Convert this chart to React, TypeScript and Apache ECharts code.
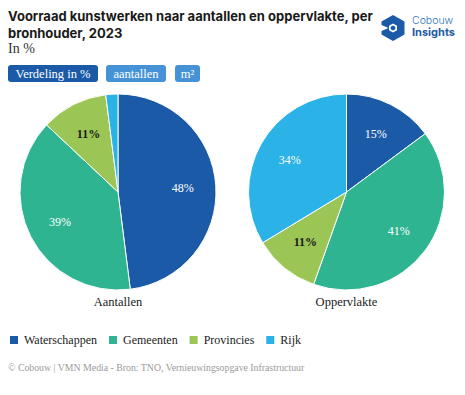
import React, { useEffect, useRef } from "react";
import * as echarts from "echarts";

const categories = ["Waterschappen", "Gemeenten", "Provincies", "Rijk"];
const aantallen = [48, 39, 11, 2];
const oppervlakte = [15, 41, 11, 34];
const pieTitles = ["Aantallen", "Oppervlakte"];
const colors = ["#1b5aa7", "#2fb492", "#9bc554", "#2bb2e6"];
const labelColors = ["#ffffff", "#ffffff", "#1a1a1a", "#ffffff"];
const labelWeights = ["normal", "normal", "bold", "normal"];
const hiddenBelow = 5;

const SERIF = "'Liberation Serif', serif";
const SANS = "Inter, 'Noto Sans', sans-serif";

export default function App() {
  const ref = useRef<HTMLDivElement>(null);
  useEffect(() => {
    document.body.style.margin = "0";
    const chart = echarts.init(ref.current!, null, { renderer: "svg" });
    const centers: [number, number][] = [
      [118, 192],
      [346.5, 192],
    ];
    const R = 98;
    const datasets = [aantallen, oppervlakte];
    const series: any[] = [];
    datasets.forEach((vals, i) => {
      series.push({
        type: "pie",
        center: centers[i],
        radius: [0, R],
        startAngle: 90,
        clockwise: true,
        silent: true,
        label: { show: false },
        labelLine: { show: false },
        itemStyle: { borderColor: "#ffffff", borderWidth: 1 },
        data: categories.map((c, k) => ({
          name: c,
          value: vals[k],
          itemStyle: { color: colors[k] },
        })),
      });
      series.push({
        type: "pie",
        center: centers[i],
        radius: [26, R],
        startAngle: 90,
        clockwise: true,
        silent: true,
        z: 3,
        labelLine: { show: false },
        itemStyle: { color: "rgba(0,0,0,0)" },
        label: { show: true, position: "inside" },
        data: categories.map((c, k) => ({
          name: c,
          value: vals[k],
          label: {
            show: vals[k] >= hiddenBelow,
            formatter: vals[k] + "%",
            color: labelColors[k],
            fontWeight: labelWeights[k],
            fontFamily: SERIF,
            fontSize: 12,
          },
        })),
      });
    });

    const logoBlue = "#1b5aa7";
    chart.setOption({
      animation: false,
      color: colors,
      legend: {
        left: 3,
        top: 329,
        icon: "rect",
        itemWidth: 10,
        itemHeight: 10,
        itemGap: 10,
        data: categories,
        selectedMode: false,
        textStyle: { fontFamily: SERIF, fontSize: 12, color: "#222" },
      },
      series,
      graphic: [
        {
          type: "text",
          left: 8,
          top: 7,
          style: {
            text: "Voorraad kunstwerken naar aantallen en oppervlakte, per\nbronhouder, 2023",
            font: `bold 13px ${SANS}`,
            fill: "#1a1a1a",
            lineHeight: 17,
          },
        },
        {
          type: "text",
          left: 8,
          top: 41,
          style: { text: "In %", font: `14px ${SERIF}`, fill: "#333" },
        },
        { type: "rect", shape: { x: 8, y: 65, width: 90, height: 17, r: 3 }, style: { fill: "#1b5aa7" } },
        { type: "text", x: 53, y: 73.5, style: { text: "Verdeling in %", font: `12.5px ${SERIF}`, fill: "#fff", align: "center", verticalAlign: "middle" } },
        { type: "rect", shape: { x: 106, y: 65, width: 60, height: 17, r: 3 }, style: { fill: "#4593d6" } },
        { type: "text", x: 136, y: 73.5, style: { text: "aantallen", font: `12.5px ${SERIF}`, fill: "#fff", align: "center", verticalAlign: "middle" } },
        { type: "rect", shape: { x: 175, y: 65, width: 25, height: 17, r: 3 }, style: { fill: "#4593d6" } },
        { type: "text", x: 187.5, y: 73.5, style: { text: "m²", font: `12.5px ${SERIF}`, fill: "#fff", align: "center", verticalAlign: "middle" } },
        { type: "text", x: centers[0][0], y: 302, style: { text: pieTitles[0], font: `12.5px ${SERIF}`, fill: "#1a1a1a", align: "center", verticalAlign: "middle" } },
        { type: "text", x: centers[1][0], y: 302, style: { text: pieTitles[1], font: `12.5px ${SERIF}`, fill: "#1a1a1a", align: "center", verticalAlign: "middle" } },
        {
          type: "text",
          left: 8,
          top: 362,
          style: {
            text: "© Cobouw | VMN Media - Bron: TNO, Vernieuwingsopgave Infrastructuur",
            font: `9.8px ${SERIF}`,
            fill: "#9a9a9a",
          },
        },
        {
          type: "group",
          x: 381,
          y: 15,
          children: [
            {
              type: "polygon",
              shape: { points: [[12, 0], [23.5, 6.5], [23.5, 19.5], [12, 26], [0.5, 19.5], [0.5, 16], [7.5, 13], [0.5, 10], [0.5, 6.5]] },
              style: { fill: logoBlue },
            },
            {
              type: "polygon",
              shape: { points: [[12, 8.5], [16, 10.8], [16, 15.2], [12, 17.5], [8, 15.2], [8, 10.8]] },
              style: { fill: "#ffffff" },
            },
            {
              type: "polygon",
              shape: { points: [[12, 10.5], [14.3, 11.8], [14.3, 14.2], [12, 15.5], [9.7, 14.2], [9.7, 11.8]] },
              style: { fill: logoBlue },
            },
          ],
        },
        { type: "text", x: 412, y: 20, style: { text: "Cobouw", font: `300 10.5px ${SANS}`, fill: "#2f74c0", verticalAlign: "middle" } },
        { type: "text", x: 412, y: 32, style: { text: "Insights", font: `bold 11px ${SANS}`, fill: "#1b5aa7", verticalAlign: "middle" } },
      ],
    });
    return () => chart.dispose();
  }, []);
  return <div ref={ref} style={{ width: 465, height: 395 }} />;
}
